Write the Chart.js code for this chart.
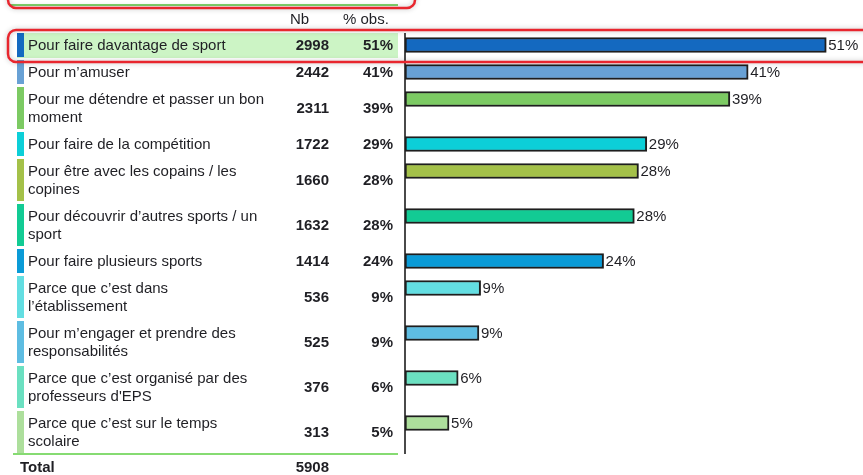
<!DOCTYPE html>
<html>
<head>
<meta charset="utf-8">
<script src="https://cdn.jsdelivr.net/npm/chart.js@4/dist/chart.umd.min.js"></script>
<style>
  html, body { margin: 0; padding: 0; background: #ffffff; }
  #wrap { position: relative; width: 863px; height: 475px; }
</style>
</head>
<body>
<div id="wrap"><canvas id="c" width="863" height="475"></canvas></div>
<script>
// ---- data ----
const categories = [
  ["Pour faire davantage de sport"],
  ["Pour m’amuser"],
  ["Pour me détendre et passer un bon", "moment"],
  ["Pour faire de la compétition"],
  ["Pour être avec les copains / les", "copines"],
  ["Pour découvrir d’autres sports / un", "sport"],
  ["Pour faire plusieurs sports"],
  ["Parce que c’est dans", "l’établissement"],
  ["Pour m’engager et prendre des", "responsabilités"],
  ["Parce que c’est organisé par des", "professeurs d'EPS"],
  ["Parce que c’est sur le temps", "scolaire"]
];
const counts = [2998, 2442, 2311, 1722, 1660, 1632, 1414, 536, 525, 376, 313];
const pctObs = [50.7, 41.3, 39.1, 29.1, 28.1, 27.6, 23.9, 9.1, 8.9, 6.4, 5.3];
const total = 5908;
const headers = ["Nb", "% obs."];
const totalLabel = "Total";

// ---- styles ----
const colors = ["#1469c0", "#68a1d5", "#7cca63", "#0ccfd8", "#a4c149", "#12cb94",
                "#0a9bd7", "#63dee2", "#5ebde2", "#6be0c1", "#addf9c"];
const FONT = "'Liberation Sans', Arial, sans-serif";
const TEXT = "#1f1f24";

// layout in y-scale units (one unit per pixel row)
const BASE_H = 27, LINE_H = 18;
const rowTop = [];
let acc = 0;
categories.forEach(l => { rowTop.push(acc); acc += BASE_H + LINE_H * (l.length - 1); });
const Y_MAX = acc;
const rowH = categories.map(l => BASE_H + LINE_H * (l.length - 1));

const tablePlugin = {
  id: 'table',
  beforeDatasetsDraw(chart) {
    const ctx = chart.ctx, y = chart.scales.y, x = chart.scales.x;
    const ca = chart.chartArea;
    ctx.save();
    // highlighted first row background
    const t0 = y.getPixelForValue(rowTop[0]);
    ctx.fillStyle = "#ccf4c5";
    ctx.fillRect(17, t0, 398 - 17, rowH[0] - 2);
    // top partial row green line
    ctx.strokeStyle = "#7fd36c"; ctx.lineWidth = 2;
    ctx.beginPath(); ctx.moveTo(10, 5); ctx.lineTo(398, 5); ctx.stroke();
    // headers
    ctx.fillStyle = TEXT; ctx.textBaseline = "middle";
    ctx.font = "15px " + FONT;
    ctx.textAlign = "left";
    ctx.fillText(headers[0], 290, 20);
    ctx.fillText(headers[1], 343, 20);
    categories.forEach((lines, i) => {
      const top = y.getPixelForValue(rowTop[i]);
      const h = rowH[i] - 3;
      ctx.fillStyle = colors[i];
      ctx.fillRect(17, top, 7, h);
      ctx.fillStyle = TEXT;
      ctx.font = "15px " + FONT;
      ctx.textAlign = "left";
      lines.forEach((ln, j) => ctx.fillText(ln, 28, top + 12.5 + LINE_H * j));
      ctx.font = "bold 15px " + FONT;
      ctx.textAlign = "right";
      const mid = top + h / 2 + 1;
      ctx.fillText(String(counts[i]), 329, mid);
      ctx.fillText(Math.round(pctObs[i]) + "%", 393, mid);
    });
    // bottom green line + total
    ctx.strokeStyle = "#86db72"; ctx.lineWidth = 2;
    ctx.beginPath(); ctx.moveTo(13, 454); ctx.lineTo(398, 454); ctx.stroke();
    ctx.fillStyle = TEXT;
    ctx.font = "bold 15px " + FONT;
    ctx.textAlign = "left";
    ctx.fillText(totalLabel, 20, 468);
    ctx.textAlign = "right";
    ctx.fillText(String(total), 329, 468);
    // axis line
    ctx.strokeStyle = "#4a4a4a"; ctx.lineWidth = 2;
    const x0 = x.getPixelForValue(0);
    ctx.beginPath(); ctx.moveTo(x0, ca.top); ctx.lineTo(x0, 454); ctx.stroke();
    ctx.restore();
  },
  afterDatasetsDraw(chart) {
    const ctx = chart.ctx;
    const meta = chart.getDatasetMeta(0);
    ctx.save();
    ctx.fillStyle = TEXT;
    ctx.font = "15px " + FONT;
    ctx.textAlign = "left"; ctx.textBaseline = "middle";
    meta.data.forEach((bar, i) => {
      ctx.fillText(Math.round(pctObs[i]) + "%", bar.x + 2, bar.y + 1);
    });
    // red highlight boxes
    ctx.strokeStyle = "#e8262e"; ctx.lineWidth = 2.5;
    ctx.shadowColor = "rgba(0,0,0,0.25)"; ctx.shadowBlur = 5;
    ctx.beginPath(); ctx.roundRect(8, -30, 407, 38, 8); ctx.stroke();
    ctx.beginPath(); ctx.roundRect(8, 30, 880, 32, 8); ctx.stroke();
    ctx.restore();
  }
};

new Chart(document.getElementById('c'), {
  type: 'bar',
  data: {
    datasets: [{
      data: pctObs.map((p, i) => ({ x: p, y: rowTop[i] + 12 })),
      backgroundColor: colors,
      borderColor: "#1e1e1e",
      borderWidth: 2,
      borderSkipped: false,
      barThickness: 15
    }]
  },
  options: {
    indexAxis: 'y',
    responsive: false,
    animation: false,
    layout: { padding: { left: 405, right: 1, top: 33, bottom: 475 - 33 - Y_MAX } },
    scales: {
      x: { type: 'linear', min: 0, max: 55, display: false, offset: false },
      y: { type: 'linear', min: 0, max: Y_MAX, reverse: true, display: false, offset: false }
    },
    plugins: { legend: { display: false }, tooltip: { enabled: false } }
  },
  plugins: [tablePlugin]
});
</script>
</body>
</html>
